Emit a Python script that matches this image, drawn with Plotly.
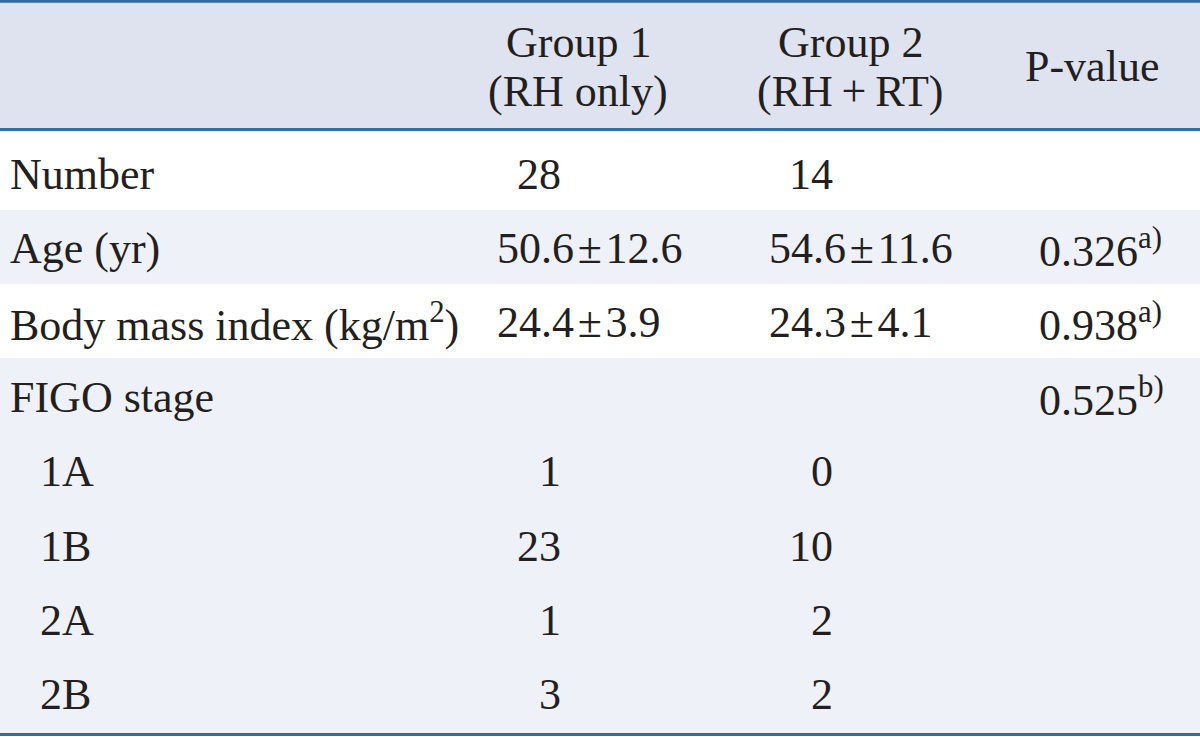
import plotly.graph_objects as go

# ---- data ----
header_labels = ["Group 1", "(RH only)", "Group 2", "(RH\u2009+\u2009RT)", "P-value"]
row_labels = ["Number", "Age (yr)", "Body mass index (kg/m<sup>2</sup>)", "FIGO stage",
              "1A", "1B", "2A", "2B"]
row_indent = [0, 0, 0, 0, 1, 1, 1, 1]
group1 = ["28", "50.6\u200a\u00b1\u200a12.6", "24.4\u200a\u00b1\u200a3.9", "", "1", "23", "1", "3"]
group2 = ["14", "54.6\u200a\u00b1\u200a11.6", "24.3\u200a\u00b1\u200a4.1", "", "0", "10", "2", "2"]
pvalues = ["", "0.326<sup>a)</sup>", "0.938<sup>a)</sup>", "0.525<sup>b)</sup>", "", "", "", ""]
row_shaded = [False, True, False, True, True, True, True, True]

# ---- style / layout constants ----
W, H = 1200, 737
FONT = "Liberation Serif"
FS = 44
TXT = "#231f20"
LINE = "#2f6ea6"
HEAD_BG = "#dfe3ef"
ROW_BG = "#eff1f8"
header_bottom = 130
row_edges = [131, 210, 284, 358, 433, 508, 582, 657, 733]
text_y0, text_dy = 174, 74.4
label_x, indent_x = 8, 38
g1_center, g2_center, p_center = 578, 850, 1092
g1_left, g2_left = 495, 767
g1_right, g2_right = 563, 835
p_left = 1037

fig = go.Figure()
shapes = []
# header band
shapes.append(dict(type="rect", x0=0, x1=W, y0=0, y1=header_bottom, fillcolor=HEAD_BG,
                   line_width=0, layer="below"))
for i, shaded in enumerate(row_shaded):
    if shaded:
        shapes.append(dict(type="rect", x0=0, x1=W, y0=row_edges[i], y1=row_edges[i + 1],
                           fillcolor=ROW_BG, line_width=0, layer="below"))
for y in (1.3, header_bottom - 0.5, H - 2.5):
    shapes.append(dict(type="line", x0=0, x1=W, y0=y, y1=y, line=dict(color=LINE, width=3)))

ann = []
def add(text, x, y, xanchor):
    ann.append(dict(text=text, x=x, y=y, xref="x", yref="y", xanchor=xanchor,
                    yanchor="middle", showarrow=False,
                    font=dict(family=FONT, size=FS, color=TXT)))

# header
add(header_labels[0], g1_center, 42, "center")
add(header_labels[1], g1_center, 91, "center")
add(header_labels[2], g2_center, 42, "center")
add(header_labels[3], g2_center, 91, "center")
add(header_labels[4], p_center, 66, "center")

for i, lab in enumerate(row_labels):
    y = text_y0 + i * text_dy
    add(lab, indent_x if row_indent[i] else label_x, y, "left")
    for val, left, right in ((group1[i], g1_left, g1_right), (group2[i], g2_left, g2_right)):
        if not val:
            continue
        if "\u00b1" in val:
            add(val, left, y, "left")
        else:
            add(val, right, y, "right")
    if pvalues[i]:
        add(pvalues[i], p_left, y, "left")

fig.update_layout(
    width=W, height=H, margin=dict(l=0, r=0, t=0, b=0),
    paper_bgcolor="white", plot_bgcolor="white",
    xaxis=dict(range=[0, W], visible=False, fixedrange=True),
    yaxis=dict(range=[H, 0], visible=False, fixedrange=True),
    shapes=shapes, annotations=ann, showlegend=False,
)
fig.write_html("out.html", config={"displayModeBar": False},
               post_script="document.body.style.margin='0';document.body.style.overflow='hidden';")
